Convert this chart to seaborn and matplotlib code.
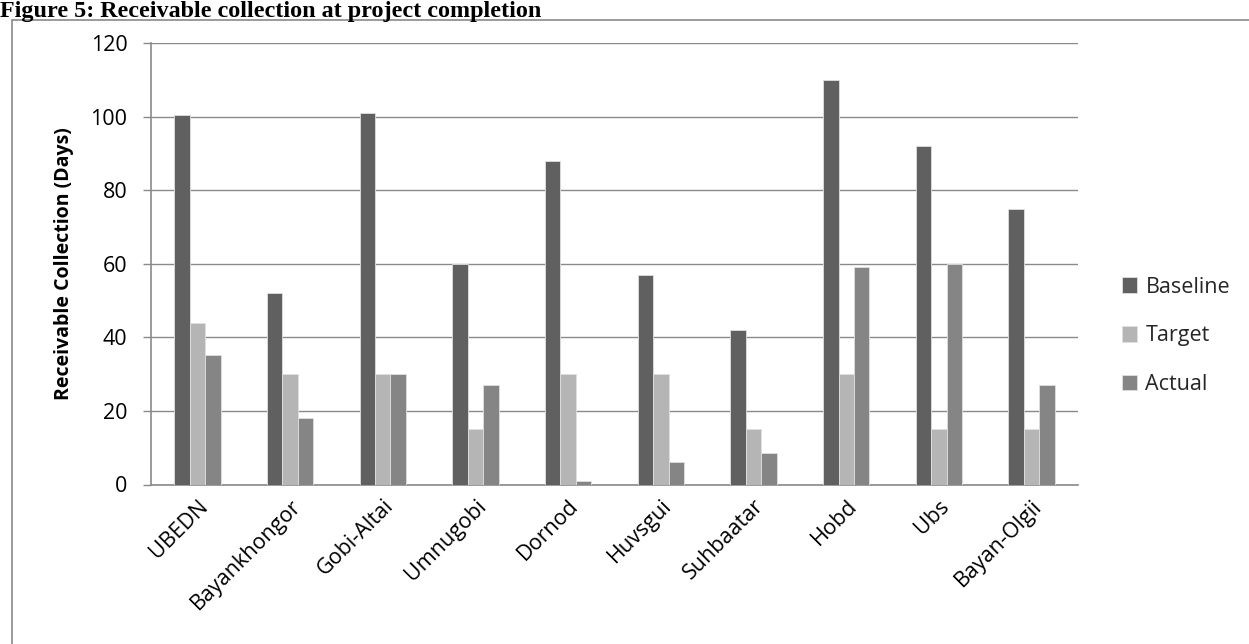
import matplotlib
matplotlib.use("Agg")
import matplotlib.pyplot as plt
from matplotlib.patches import Rectangle
import pandas as pd
import seaborn as sns

# Receivable collection (days) per branch
branches = ["UBEDN", "Bayankhongor", "Gobi-Altai", "Umnugobi", "Dornod",
            "Huvsgui", "Suhbaatar", "Hobd", "Ubs", "Bayan-Olgii"]
baseline = [100.3, 52, 101, 60, 88, 57, 42, 110, 92, 75]
target = [44, 30, 30, 15, 30, 30, 15, 30, 15, 15]
actual = [35.3, 18, 30, 27, 1, 6, 8.5, 59, 60, 27]
series_names = ["Baseline", "Target", "Actual"]
y_ticks = [0, 20, 40, 60, 80, 100, 120]

colors = {"Baseline": "#606060", "Target": "#b5b5b5", "Actual": "#858585"}
grid_color = "#8a8a8a"

df = pd.DataFrame({
    "Branch": branches * 3,
    "Series": [s for s in series_names for _ in branches],
    "Days": baseline + target + actual,
})

sns.set_theme(style="white")
plt.rcParams["font.family"] = ["Open Sans", "DejaVu Sans"]

W, H = 1249, 644
fig = plt.figure(figsize=(W / 100, H / 100), dpi=100)
ax = fig.add_axes([151 / W, 1 - 484.5 / H, (1078 - 151) / W, (484.5 - 43) / H])

sns.barplot(data=df, x="Branch", y="Days", hue="Series", order=branches,
            hue_order=series_names, palette=colors, width=0.5, gap=0,
            edgecolor="#e0e0e0", linewidth=0.6, ax=ax, errorbar=None,
            zorder=3)

ax.set_ylim(0, 120)
ax.set_xlim(-0.5, len(branches) - 0.5)
ax.set_yticks(y_ticks)
ax.set_yticklabels([str(t) for t in y_ticks], fontsize=15.5, color="black")
ax.yaxis.grid(True, color=grid_color, linewidth=1.0, zorder=0)
ax.set_axisbelow(True)
ax.tick_params(axis="y", length=6, width=1.0, color=grid_color, pad=11,
               left=True)
ax.tick_params(axis="x", length=0, pad=8)
ax.set_xlabel("")
ax.set_ylabel("Receivable Collection (Days)", fontsize=14, fontweight="bold",
              color="black", labelpad=12)
for lab in ax.get_xticklabels():
    lab.set_rotation(45)
    lab.set_ha("right")
    lab.set_va("top")
    lab.set_rotation_mode("anchor")
    lab.set_fontsize(15.5)
    lab.set_color("black")

for side in ("top", "right"):
    ax.spines[side].set_visible(False)
for side in ("left", "bottom"):
    ax.spines[side].set_color(grid_color)
    ax.spines[side].set_linewidth(1.2)

handles, labels = ax.get_legend_handles_labels()
ax.legend_.remove()
fig.legend(handles, labels, loc="center left",
           bbox_to_anchor=(1111 / W, 1 - 336 / H), frameon=False,
           fontsize=15.5, handlelength=0.7, handleheight=0.7,
           handletextpad=0.4, labelspacing=1.3, borderpad=0)

# Frame around the chart area
fig.add_artist(Rectangle((12 / W, -0.1), 1.2, 1 - 20 / H + 0.1,
                         transform=fig.transFigure, fill=False,
                         edgecolor=grid_color, linewidth=1.2))

fig.text(0.0, 1 - 17 / H, "Figure 5: Receivable collection at project completion",
         fontfamily="Liberation Serif", fontweight="bold", fontsize=17.4,
         ha="left", va="baseline", color="black")

fig.savefig("out.png", dpi=100, facecolor="white")
